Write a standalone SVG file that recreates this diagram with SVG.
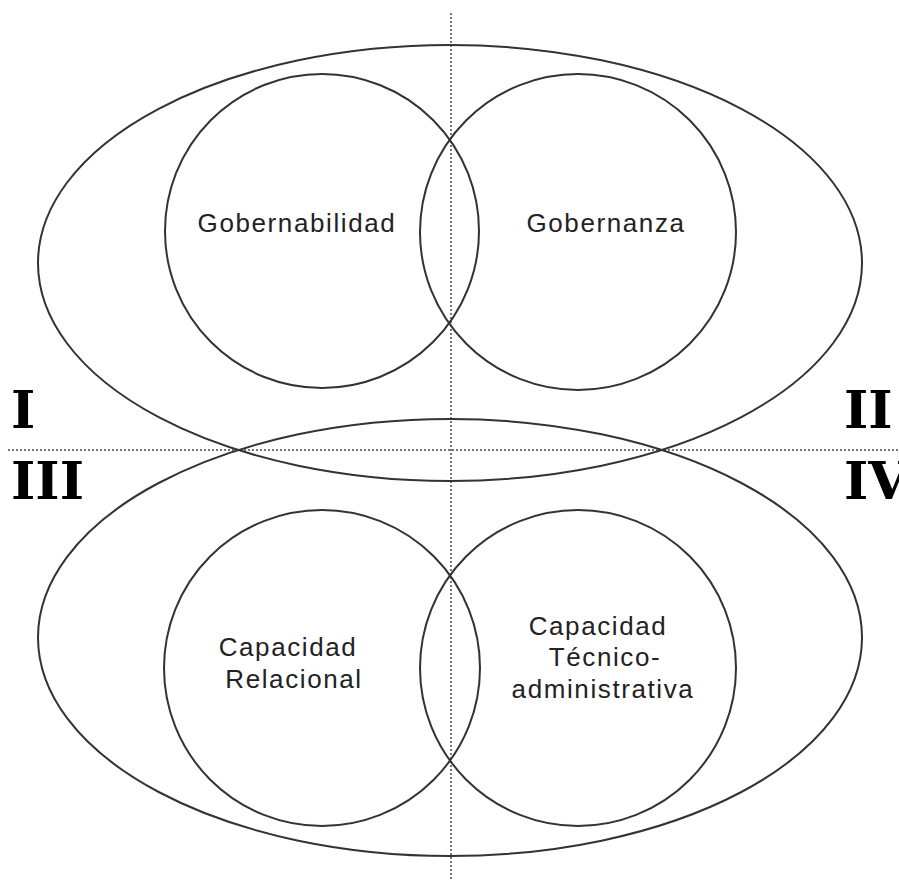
<svg xmlns="http://www.w3.org/2000/svg" width="899" height="881" viewBox="0 0 899 881">
<style>
.sh{fill:none;stroke:#333;stroke-width:2}
.dot{stroke:#777;stroke-width:2;stroke-dasharray:2 2;fill:none}
.lb{font-family:"Liberation Sans",Arial,sans-serif;font-size:26px;fill:#222;letter-spacing:1.6px;text-anchor:middle}
.rn{font-family:"DejaVu Serif",serif;font-weight:bold;font-size:52px;fill:#000}
</style>
<rect width="899" height="881" fill="#fff"/>
<g id="connectors">
<line class="dot" x1="451" y1="13" x2="451" y2="881"/>
<line class="dot" x1="8" y1="450" x2="899" y2="450"/>
</g>
<g id="top-ellipse"><ellipse class="sh" cx="450" cy="263" rx="412" ry="218"/></g>
<g id="bottom-ellipse"><ellipse class="sh" cx="450" cy="637.5" rx="412" ry="218.5"/></g>
<g id="gobernabilidad"><circle class="sh" cx="322" cy="231" r="157"/><text class="lb" x="297" y="232">Gobernabilidad</text></g>
<g id="gobernanza"><circle class="sh" cx="578" cy="232" r="158"/><text class="lb" x="606" y="232">Gobernanza</text></g>
<g id="capacidad-relacional"><circle class="sh" cx="322" cy="668" r="158"/><text class="lb" x="288" y="656">Capacidad</text><text class="lb" x="294" y="688">Relacional</text></g>
<g id="capacidad-tecnico"><circle class="sh" cx="578" cy="668" r="158"/><text class="lb" x="598" y="635">Capacidad</text><text class="lb" x="605" y="666">Técnico-</text><text class="lb" x="603" y="698">administrativa</text></g>
<g id="quadrants">
<text class="rn" x="11" y="428">I</text>
<text class="rn" x="844" y="428">II</text>
<text class="rn" x="11" y="499">III</text>
<text class="rn" x="844" y="499">IV</text>
</g>
</svg>
